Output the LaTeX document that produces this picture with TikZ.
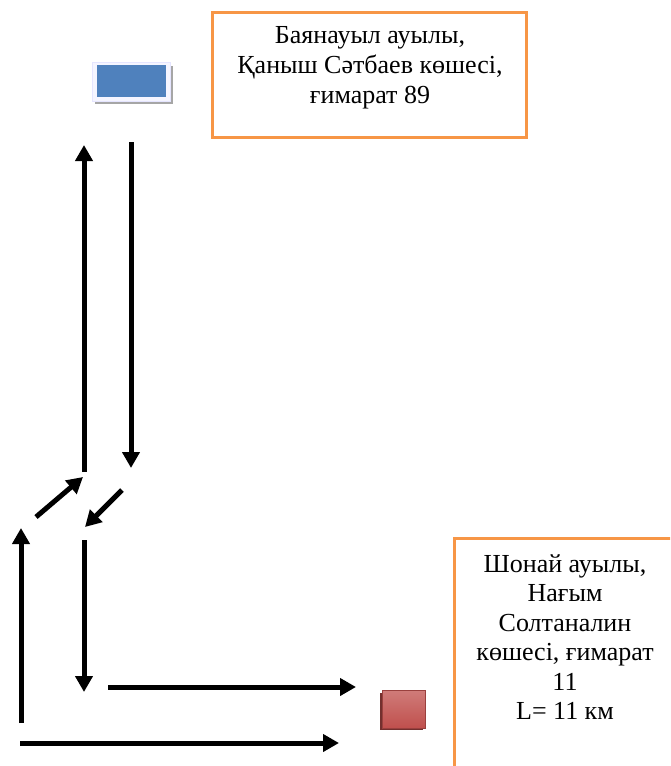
\documentclass[tikz,border=0pt]{standalone}
\usepackage{fontspec}
\setmainfont{Liberation Serif}
\usetikzlibrary{arrows.meta}
\definecolor{boxorange}{HTML}{F79646}
\definecolor{mapblue}{HTML}{4F81BD}
\definecolor{mapred}{HTML}{C0504D}
\tikzset{
  road/.style={line width=5pt,-{Triangle[length=16pt,width=17pt]}},
  addr/.style={draw=boxorange,line width=3pt,fill=white,inner sep=0pt},
  addrtext/.style={align=center,inner sep=0pt,font=\fontsize{26}{30}\selectfont},
}
\begin{document}
\begin{tikzpicture}[x=1pt,y=-1pt]
\clip (0,0) rectangle (670,766);
\fill[white] (0,0) rectangle (670,766);
% top address box
\node[addr,minimum width=314pt,minimum height=125pt] (top) at (369,74.5) {};
\node[addrtext] (toptxt) at (370,68)
  {Баянауыл ауылы,\\Қаныш Сәтбаев көшесі,\\ғимарат 89};
% bottom address box
\node[addr,minimum width=228pt,minimum height=250pt,anchor=north west] (bot) at (453,537) {};
\node[addrtext,font=\fontsize{26}{29.4}\selectfont] (bottxt) at (565,637)
  {Шонай ауылы,\\Нағым\\Солтаналин\\көшесі, ғимарат\\11\\L= 11 км};
% blue start marker
\fill[black!35] (95,66) rectangle (173,104);
\node[fill=blue!4,draw=blue!10,minimum width=78pt,minimum height=39pt,inner sep=0pt] (start) at (131,82) {};
\node[fill=mapblue,minimum width=69pt,minimum height=32pt,inner sep=0pt] (startin) at (131.5,81) {};
% red end marker
\fill[mapred!60!black] (380,693) rectangle (423,730);
\node[top color=mapred!75,bottom color=mapred,draw=mapred!80!black,line width=0.6pt,
  minimum width=43pt,minimum height=38pt,inner sep=0pt] (finish) at (403.5,709) {};
% arrow end points
\coordinate (a1s) at (84,472); \coordinate (a1e) at (84,145);
\coordinate (a2s) at (131,142); \coordinate (a2e) at (131,468);
\coordinate (a3s) at (36,517); \coordinate (a3e) at (83,477);
\coordinate (a4s) at (122,490); \coordinate (a4e) at (85,527);
\coordinate (a5s) at (84,540); \coordinate (a5e) at (84,692);
\coordinate (a6s) at (21,723); \coordinate (a6e) at (21,528);
\coordinate (a7s) at (108,687); \coordinate (a7e) at (356,687);
\coordinate (a8s) at (20,743); \coordinate (a8e) at (339,743);
\draw[road] (a1s) -- (a1e);
\draw[road] (a2s) -- (a2e);
\draw[road] (a3s) -- (a3e);
\draw[road] (a4s) -- (a4e);
\draw[road] (a5s) -- (a5e);
\draw[road] (a6s) -- (a6e);
\draw[road] (a7s) -- (a7e);
\draw[road] (a8s) -- (a8e);
\end{tikzpicture}
\end{document}
